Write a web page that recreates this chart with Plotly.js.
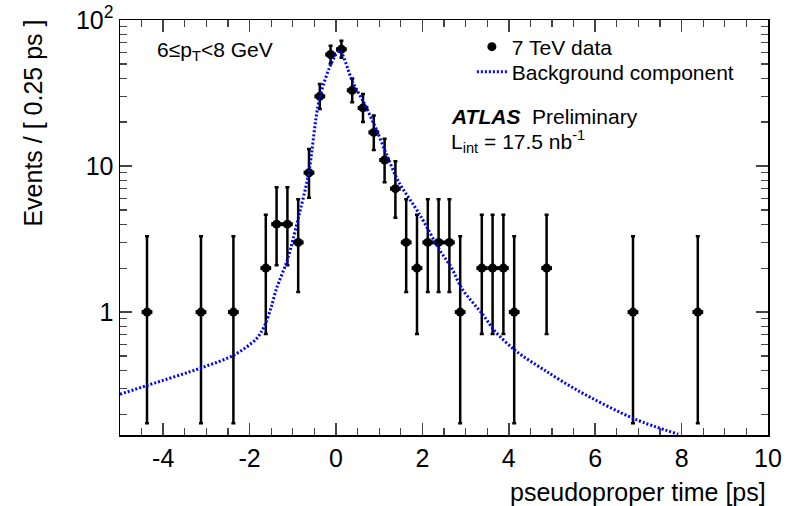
<!DOCTYPE html>
<html>
<head>
<meta charset="utf-8">
<script src="https://cdn.plot.ly/plotly-3.0.1.min.js"></script>
<style>html,body{margin:0;padding:0;background:#fff;}#chart{width:787px;height:506px;}</style>
</head>
<body>
<div id="chart"></div>
<script>
// Data points (bin centres, counts) for 7 TeV data
const binCenters = [-4.375, -3.125, -2.375, -1.625, -1.375, -1.125, -0.875, -0.625, -0.375, -0.125, 0.125, 0.375, 0.625, 0.875, 1.125, 1.375, 1.625, 1.875, 2.125, 2.375, 2.625, 2.875, 3.375, 3.625, 3.875, 4.125, 4.875, 6.875, 8.375];
const counts = [1, 1, 1, 2, 4, 4, 3, 9, 30, 58, 63, 33, 25, 17, 11, 7, 3, 2, 3, 3, 3, 1, 2, 2, 2, 1, 2, 1, 1];
const errHigh = [3.3, 3.3, 3.3, 4.64, 7.16, 7.16, 5.92, 13.1, 36.5, 66.7, 72.0, 39.8, 31.1, 22.2, 15.4, 10.8, 5.92, 4.64, 5.92, 5.92, 5.92, 3.3, 4.64, 4.64, 4.64, 3.3, 4.64, 3.3, 3.3];
const errLow = [0.173, 0.173, 0.173, 0.708, 2.09, 2.09, 1.37, 6.06, 24.6, 50.4, 55.1, 27.3, 20.0, 12.9, 7.74, 4.42, 1.37, 0.708, 1.37, 1.37, 1.37, 0.173, 0.708, 0.708, 0.708, 0.173, 0.708, 0.173, 0.173];
const halfBin = 0.125;

// Background component curve
const bgX = [-5, -4.35, -3.09, -2.35, -1.85, -1.72, -1.62, -1.5, -1.38, -1.12, -0.86, -0.63, -0.385, -0.08, 0.08, 0.39, 0.66, 0.93, 1.18, 1.45, 1.93, 2.41, 2.67, 2.92, 3.42, 3.67, 4.16, 4.85, 5.61, 6.92, 7.92];
const bgY = [0.274, 0.316, 0.418, 0.51, 0.653, 0.74, 0.85, 1.08, 1.44, 2.31, 4.57, 9.0, 28.8, 52.6, 61.6, 37.4, 26.6, 17.9, 11.8, 7.8, 4.69, 2.63, 2.02, 1.44, 0.944, 0.745, 0.543, 0.396, 0.289, 0.185, 0.146];

// Axis tick labels
const xTickVals = [-4, -2, 0, 2, 4, 6, 8, 10];
const xTickText = ['-4', '-2', '0', '2', '4', '6', '8', '10'];
const yTickVals = [1, 10, 100];
const yTickText = ['1', '10', '10<sup>2</sup>'];
const yMinorVals = [0.2,0.3,0.4,0.5,0.6,0.7,0.8,0.9,2,3,4,5,6,7,8,9,20,30,40,50,60,70,80,90];

const font = 'Liberation Sans, Arial, Helvetica, sans-serif';

const dataTrace = {
  x: binCenters, y: counts, type: 'scatter', mode: 'markers', name: '7 TeV data', legend: 'legend',
  marker: {color: '#000', size: 9, symbol: 'circle'},
  error_y: {type: 'data', symmetric: false,
    array: counts.map((c, i) => errHigh[i] - c),
    arrayminus: counts.map((c, i) => c - errLow[i]),
    color: '#000', thickness: 2.5, width: 2},
  error_x: {type: 'constant', value: halfBin, color: '#000', thickness: 4, width: 0},
  cliponaxis: true
};
const bgTrace = {
  x: bgX, y: bgY, type: 'scatter', mode: 'lines', name: 'Background component', legend: 'legend2',
  line: {color: '#0000ff', width: 3, dash: '2px,2px', shape: 'spline', smoothing: 0.9}
};

const legendCommon = {xanchor: 'left', yanchor: 'middle', bgcolor: 'rgba(0,0,0,0)',
  font: {family: font, size: 21, color: '#000'}, itemwidth: 30};

const layout = {
  width: 787, height: 506,
  margin: {l: 120, r: 19, t: 20, b: 71},
  paper_bgcolor: '#fff', plot_bgcolor: '#fff',
  font: {family: font, color: '#000', size: 25},
  showlegend: true,
  legend: Object.assign({x: 0.543, y: (435 - 47) / 415}, legendCommon),
  legend2: Object.assign({x: 0.543, y: (435 - 72) / 415}, legendCommon),
  xaxis: {range: [-5, 10], tickvals: xTickVals, ticktext: xTickText, ticks: 'inside', ticklen: 12, tickwidth: 1.5,
    showline: true, linecolor: '#000', linewidth: 1.5, mirror: 'ticks', showgrid: false, zeroline: false,
    tickfont: {family: font, size: 25, color: '#000'},
    minor: {dtick: 0.5, tick0: 0, ticklen: 7, tickwidth: 1.2, ticks: 'inside', showgrid: false}},
  xaxis2: {range: [-5, 10], overlaying: 'x', anchor: 'y', side: 'bottom', dtick: 0.25, tick0: 0,
    ticks: 'inside', ticklen: 4, tickwidth: 1.2, showticklabels: false, showline: false,
    mirror: 'ticks', showgrid: false, zeroline: false},
  yaxis: {type: 'log', range: [Math.log10(0.144), 2], tickvals: yTickVals, ticktext: yTickText,
    ticks: 'inside', ticklen: 12, tickwidth: 1.5, showline: true, linecolor: '#000', linewidth: 1.5,
    mirror: 'ticks', showgrid: false, zeroline: false,
    tickfont: {family: font, size: 25, color: '#000'},
    minor: {tickvals: yMinorVals, ticklen: 7, tickwidth: 1.2, ticks: 'inside', showgrid: false}},
  annotations: [
    {xref: 'paper', yref: 'paper', x: -0.134, y: 1.005, xanchor: 'center', yanchor: 'top',
      text: 'Events / [ 0.25 ps ]', textangle: -90, showarrow: false,
      font: {family: font, size: 25, color: '#000'}},
    {xref: 'paper', yref: 'paper', x: 1.0, y: -0.137, xanchor: 'right', yanchor: 'middle',
      text: 'pseudoproper time [ps]', showarrow: false, font: {family: font, size: 25, color: '#000'}},
    {xref: 'paper', yref: 'paper', x: 0.054, y: 0.925, xanchor: 'left', yanchor: 'middle',
      text: '6≤p<sub>T</sub>&lt;8 GeV', showarrow: false, font: {family: font, size: 21, color: '#000'}},
    {xref: 'paper', yref: 'paper', x: 0.508, y: 0.768, xanchor: 'left', yanchor: 'middle',
      text: '<b><i>ATLAS</i></b>  Preliminary', showarrow: false, font: {family: font, size: 21, color: '#000'}},
    {xref: 'paper', yref: 'paper', x: 0.508, y: 0.708, xanchor: 'left', yanchor: 'middle',
      text: 'L<sub>int</sub> = 17.5 nb<sup>-1</sup>', showarrow: false, font: {family: font, size: 21, color: '#000'}}
  ]
};

Plotly.newPlot('chart', [dataTrace, bgTrace], layout, {staticPlot: true, displayModeBar: false});
</script>
</body>
</html>
